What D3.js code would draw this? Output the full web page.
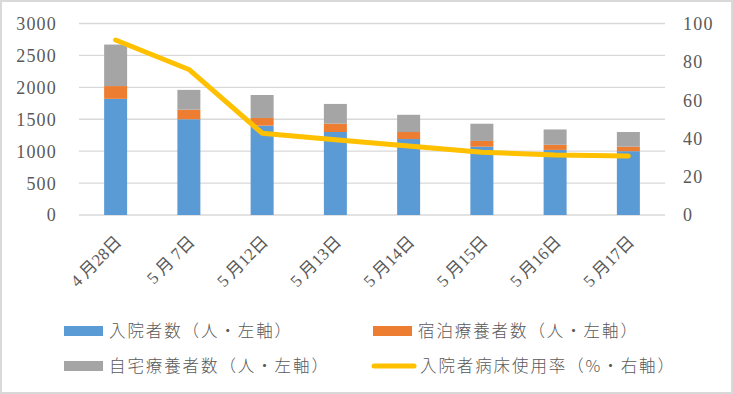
<!DOCTYPE html>
<html>
<head>
<meta charset="utf-8">
<script src="https://cdn.jsdelivr.net/npm/d3@7"></script>
<style>
  html, body { margin: 0; padding: 0; background: #fff; }
  svg { display: block; }
</style>
</head>
<body>
<svg id="chart" width="733" height="394"></svg>
<script>
// ---- data ----
const categories = ["4月28日", "5月7日", "5月12日", "5月13日", "5月14日", "5月15日", "5月16日", "5月17日"];
const categoryLabels = ["4 月28日", "5 月 7日", "5 月12日", "5 月13日", "5 月14日", "5 月15日", "5 月16日", "5 月17日"];
const hospitalized = [1820, 1500, 1400, 1300, 1190, 1070, 1020, 1000];
const hotelCare = [200, 150, 120, 130, 110, 90, 80, 70];
const homeCare = [650, 310, 360, 310, 270, 270, 240, 230];
const bedUsageRate = [91.4, 76.0, 42.7, 39.3, 36.0, 32.8, 31.3, 30.8];
const leftTicks = [0, 500, 1000, 1500, 2000, 2500, 3000];
const rightTicks = [0, 20, 40, 60, 80, 100];
const seriesNames = ["入院者数（人・左軸）", "宿泊療養者数（人・左軸）", "自宅療養者数（人・左軸）", "入院者病床使用率（%・右軸）"];
const colors = ["#5B9BD5", "#ED7D31", "#A5A5A5", "#FFC000"];

// ---- layout ----
const svg = d3.select("#chart");
const W = 733, H = 394;
const plot = { left: 79, right: 665, top: 23.5, bottom: 215 };
const serif = "'Liberation Serif', 'Times New Roman', 'DejaVu Serif', serif";

svg.append("rect").attr("x", 1).attr("y", 1).attr("width", W - 2).attr("height", H - 2)
  .attr("fill", "#fff").attr("stroke", "#D9D9D9").attr("stroke-width", 2);

const x = d3.scaleBand().domain(categories).range([plot.left, plot.right]).paddingInner(0.686).paddingOuter(0.343);
const yL = d3.scaleLinear().domain([0, 3000]).range([plot.bottom, plot.top]);
const yR = d3.scaleLinear().domain([0, 100]).range([plot.bottom, plot.top]);

// gridlines
svg.append("g").selectAll("line").data(leftTicks).join("line")
  .attr("x1", plot.left).attr("x2", plot.right)
  .attr("y1", d => yL(d)).attr("y2", d => yL(d))
  .attr("stroke", "#D9D9D9").attr("stroke-width", 1.3);

// axes labels
const leftAxis = d3.axisLeft(yL).tickValues(leftTicks).tickFormat(d3.format("d")).tickSize(0).tickPadding(0);
const gL = svg.append("g").attr("transform", `translate(57,0)`).call(leftAxis);
gL.select(".domain").remove();
gL.selectAll("text").style("font-family", serif).style("font-size", "18px").attr("fill", "#595959")
  .attr("letter-spacing", 1.2).attr("dy", "0.33em");

const rightAxis = d3.axisRight(yR).tickValues(rightTicks).tickFormat(d3.format("d")).tickSize(0).tickPadding(0);
const gR = svg.append("g").attr("transform", `translate(683,0)`).call(rightAxis);
gR.select(".domain").remove();
gR.selectAll("text").style("font-family", serif).style("font-size", "18px").attr("fill", "#595959")
  .attr("letter-spacing", 1.2).attr("dy", "0.33em");

// stacked bars
const rows = categories.map((c, i) => ({ cat: c, h: hospitalized[i], t: hotelCare[i], m: homeCare[i] }));
const stack = d3.stack().keys(["h", "t", "m"])(rows);
svg.append("g").selectAll("g").data(stack).join("g")
  .attr("fill", (d, i) => colors[i])
  .selectAll("rect").data(d => d).join("rect")
  .attr("x", d => x(d.data.cat)).attr("width", x.bandwidth())
  .attr("y", d => yL(d[1])).attr("height", d => yL(d[0]) - yL(d[1]));

// line
const line = d3.line().x((d, i) => x(categories[i]) + x.bandwidth() / 2).y(d => yR(d));
svg.append("path").datum(bedUsageRate).attr("d", line)
  .attr("fill", "none").attr("stroke", colors[3]).attr("stroke-width", 5)
  .attr("stroke-linejoin", "round").attr("stroke-linecap", "round");

// category labels
svg.append("g").selectAll("text").data(categories).join("text")
  .attr("transform", (d) => `translate(${x(d) + x.bandwidth() / 2 + 7},${243}) rotate(-45)`)
  .attr("text-anchor", "end")
  .style("font-family", serif + ", 'Noto Sans CJK JP'").style("font-size", "17px").attr("fill", "#595959")
  .text((d, i) => categoryLabels[i]);

// legend
const legendFont = "'Noto Sans CJK JP', sans-serif";
const legendItems = [
  { name: seriesNames[0], color: colors[0], type: "rect", x: 64, y: 331 },
  { name: seriesNames[1], color: colors[1], type: "rect", x: 373, y: 331 },
  { name: seriesNames[2], color: colors[2], type: "rect", x: 64, y: 366 },
  { name: seriesNames[3], color: colors[3], type: "line", x: 373, y: 366 }
];
const lg = svg.append("g").selectAll("g").data(legendItems).join("g")
  .attr("transform", d => `translate(${d.x},${d.y})`);
lg.filter(d => d.type === "rect").append("rect")
  .attr("x", 0).attr("y", -5).attr("width", 39).attr("height", 10).attr("fill", d => d.color);
lg.filter(d => d.type === "line").append("line")
  .attr("x1", 1).attr("x2", 41).attr("y1", 0).attr("y2", 0)
  .attr("stroke", d => d.color).attr("stroke-width", 5).attr("stroke-linecap", "round");
lg.append("text").attr("x", d => d.type === "line" ? 47 : 45).attr("y", 0).attr("dy", "0.36em")
  .attr("font-family", legendFont).attr("font-size", 16.5).attr("font-weight", 300)
  .attr("letter-spacing", 1.9).attr("fill", "#595959")
  .text(d => d.name);
</script>
</body>
</html>
